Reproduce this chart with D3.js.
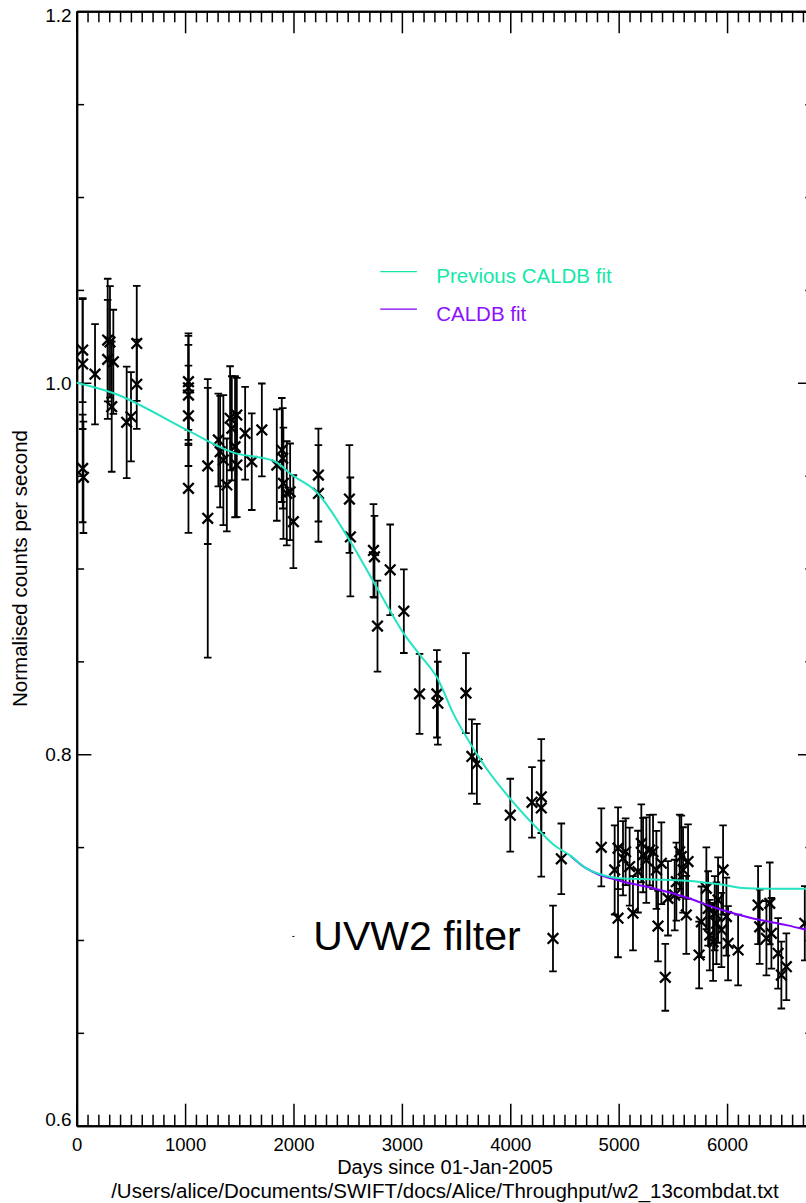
<!DOCTYPE html>
<html>
<head>
<meta charset="utf-8">
<script src="https://cdn.jsdelivr.net/npm/d3@7"></script>
<style>
  body { margin: 0; background: #fff; }
  text { font-family: "Liberation Sans", Arial, Helvetica, sans-serif; }
</style>
</head>
<body>
<svg id="chart"></svg>
<script>
// observation day (since 01-Jan-2005), normalised rate, 1-sigma error
const days = [55, 55, 55, 62, 169, 286, 307, 286, 338, 323, 461, 501, 554, 554,
  1031, 1031, 1031, 1031, 1031, 1209, 1209,
  1307, 1323, 1353, 1385, 1415, 1431, 1461, 1477, 1477, 1554, 1615, 1708,
  1846, 1892, 1901, 1907, 1938, 1969, 1999, 2230, 2230,
  2516, 2525, 2738, 2747, 2775, 2892, 3018, 3163, 3323, 3332, 3591, 3646, 3692,
  4000, 4200, 4286, 4286, 4394, 4471,
  4840, 4994, 4994, 4963, 5040, 5064, 5101, 5132, 5178, 5209, 5225, 5255, 5286,
  5317, 5348, 5363, 5394, 5430, 5455, 5517, 5532, 5563, 5578, 5594, 5624, 5640,
  5742, 5763, 5809, 5825, 5840, 5871, 5886, 5902, 5917, 5948, 5963, 5994, 6009,
  6102, 6286, 6301, 6363, 6394, 6409, 6471, 6501, 6547, 6717];
const rates = [1.0176, 1.0101, 0.9539, 0.9491, 1.0046, 1.0230, 1.0220, 1.0126, 1.0113, 0.9871, 0.9787, 0.9817, 1.0212, 0.9992,
  1.0006, 0.9973, 0.9934, 0.9822, 0.9432, 0.9552, 0.9270,
  0.9692, 0.9629, 0.9584, 0.9450, 0.9809, 0.9755, 0.9656, 0.9826, 0.9557, 0.9728, 0.9575, 0.9746,
  0.9557, 0.9638, 0.9593, 0.9459, 0.9405, 0.9413, 0.9252, 0.9503, 0.9404,
  0.9374, 0.9170, 0.9097, 0.9063, 0.8690, 0.8993, 0.8770, 0.8325, 0.8325, 0.8275, 0.8329, 0.7988, 0.7948,
  0.7672, 0.7741, 0.7771, 0.7711, 0.7008, 0.7437,
  0.7499, 0.7494, 0.7117, 0.7377, 0.7440, 0.7475, 0.7395, 0.7144, 0.7368, 0.7520, 0.7457, 0.7430, 0.7484,
  0.7475, 0.7377, 0.7075, 0.7413, 0.6799, 0.7224, 0.7242, 0.7314, 0.7475, 0.7449, 0.7377, 0.7135, 0.7422,
  0.6919, 0.7098, 0.7278, 0.7170, 0.7026, 0.6990, 0.7144, 0.7090, 0.7215, 0.7054, 0.7377, 0.7126, 0.6982,
  0.6946, 0.7188, 0.7071, 0.7009, 0.7197, 0.7036, 0.6928, 0.6811, 0.6856, 0.7090];
const errs = [0.028, 0.035, 0.029, 0.030, 0.027, 0.033, 0.030, 0.032, 0.028, 0.035, 0.030, 0.024, 0.031, 0.024,
  0.026, 0.028, 0.027, 0.027, 0.024, 0.042, 0.075,
  0.025, 0.030, 0.035, 0.025, 0.028, 0.028, 0.038, 0.020, 0.028, 0.025, 0.026, 0.025,
  0.030, 0.028, 0.027, 0.030, 0.028, 0.026, 0.025, 0.025, 0.026,
  0.029, 0.032, 0.025, 0.022, 0.0245, 0.0244, 0.0225, 0.0215, 0.0235, 0.0223, 0.0215, 0.020, 0.0215,
  0.0196, 0.019, 0.0195, 0.037, 0.0177, 0.019,
  0.021, 0.022, 0.021, 0.024, 0.020, 0.018, 0.021, 0.020, 0.022, 0.021, 0.020, 0.023, 0.019,
  0.020, 0.021, 0.019, 0.022, 0.018, 0.020, 0.019, 0.021, 0.020, 0.022, 0.023, 0.021, 0.020,
  0.018, 0.019, 0.022, 0.020, 0.019, 0.021, 0.020, 0.022, 0.023, 0.020, 0.024, 0.021, 0.020,
  0.019, 0.021, 0.020, 0.020, 0.022, 0.019, 0.019, 0.018, 0.018, 0.020];

// previous CALDB fit
const prevFitDays = [0, 354, 1015, 1446, 1815, 2000, 2200, 2523, 2738, 2892, 3015, 3169, 3323, 3477,
  3631, 3785, 4000, 4246, 4400, 4554, 4702, 4886, 5009, 5317, 5624, 5932, 6178, 6425, 6790];
const prevFit = [1.0, 0.9941, 0.9746, 0.9624, 0.958, 0.9498, 0.942, 0.9147, 0.8929, 0.8771, 0.8652, 0.8533, 0.8414, 0.8216,
  0.8058, 0.7919, 0.776, 0.7602, 0.7513, 0.7454, 0.7385, 0.7344, 0.7332, 0.7326, 0.7319, 0.73, 0.7278, 0.7276, 0.7276];

// current CALDB fit, only differs from the previous one after ~4700 days
const caldbDays = [4554, 4702, 4794, 5009, 5317, 5624, 5932, 6240, 6547, 6790];
const caldbFit = [0.7454, 0.7385, 0.7358, 0.7319, 0.7278, 0.7229, 0.7165, 0.7116, 0.708, 0.7047];

const xMajor = [0, 1000, 2000, 3000, 4000, 5000, 6000];
const yMajor = [0.6, 0.8, 1.0, 1.2];
const legendLabels = ['Previous CALDB fit', 'CALDB fit'];

const prevColor = '#22e4c0', caldbColor = '#8000ff';
const prevTextColor = '#14e8a8', caldbTextColor = '#8a10ff';

let margin = {top: 11.3, left: 76.7},
  plotW = 736, plotH = 1114.4;

let x = d3.scaleLinear().domain([0, 6790]).range([0, plotW]);
let y = d3.scaleLinear().domain([0.6, 1.2]).range([plotH, 0]);

let svg = d3.select('#chart')
  .attr('width', 806)
  .attr('height', 1203);

let chart = svg.append('g')
  .attr('transform', 'translate(' + margin.left + ',' + margin.top + ')');

let xMinor = d3.range(100, 6790, 100).filter(d => d % 1000 !== 0);
let yMinor = d3.range(0.65, 1.2, 0.05).filter(d => Math.abs(d * 5 - Math.round(d * 5)) > 1e-6);

function styleAxis(sel) {
  sel.attr('font-size', 18.5).attr('font-family', null);
  sel.select('.domain').attr('stroke', '#000').attr('stroke-width', 2);
  sel.selectAll('.tick line').attr('stroke', '#000').attr('stroke-width', 1.5);
  sel.selectAll('.tick text').attr('fill', '#000');
}

// bottom
chart.append('g').attr('transform', 'translate(0,' + plotH + ')')
  .call(d3.axisBottom(x).tickValues(xMinor).tickSizeInner(-11).tickSizeOuter(0).tickFormat(''))
  .call(styleAxis);
chart.append('g').attr('class', 'x axis').attr('transform', 'translate(0,' + plotH + ')')
  .call(d3.axisBottom(x).tickValues(xMajor).tickSizeInner(-22).tickSizeOuter(0).tickPadding(12.5).tickFormat(d3.format('d')))
  .call(styleAxis);
// top
chart.append('g')
  .call(d3.axisTop(x).tickValues(xMinor).tickSizeInner(-11).tickSizeOuter(0).tickFormat(''))
  .call(styleAxis);
chart.append('g')
  .call(d3.axisTop(x).tickValues(xMajor).tickSizeInner(-22).tickSizeOuter(0).tickFormat(''))
  .call(styleAxis);
// left
chart.append('g')
  .call(d3.axisLeft(y).tickValues(yMinor).tickSizeInner(-7.4).tickSizeOuter(0).tickFormat(''))
  .call(styleAxis);
let yAxisG = chart.append('g').attr('class', 'y axis')
  .call(d3.axisLeft(y).tickValues(yMajor).tickSizeInner(-14.7).tickSizeOuter(0).tickPadding(5).tickFormat(d3.format('.1f')))
  .call(styleAxis);
yAxisG.selectAll('.tick text')
  .attr('font-size', 19)
  .attr('dy', d => d === 1.2 ? '0.55em' : (d === 0.6 ? '0em' : '0.34em'));
// right
chart.append('g').attr('transform', 'translate(' + plotW + ',0)')
  .call(d3.axisRight(y).tickValues(yMinor).tickSizeInner(-7.4).tickSizeOuter(0).tickFormat(''))
  .call(styleAxis);
chart.append('g').attr('transform', 'translate(' + plotW + ',0)')
  .call(d3.axisRight(y).tickValues(yMajor).tickSizeInner(-14.7).tickSizeOuter(0).tickFormat(''))
  .call(styleAxis);

// data with error bars
let pts = days.map((d, i) => ({d: d, v: rates[i], e: errs[i]}));
let marks = chart.append('g')
  .attr('stroke', '#000')
  .attr('stroke-width', 1.8)
  .attr('fill', 'none');

marks.selectAll('.err')
  .data(pts)
  .enter()
  .append('path')
  .attr('class', 'err')
  .attr('d', p => {
    let px = x(p.d), y1 = y(p.v + p.e), y2 = y(p.v - p.e);
    return 'M' + px + ',' + y1 + 'V' + y2 +
      'M' + (px - 3.8) + ',' + y1 + 'H' + (px + 3.8) +
      'M' + (px - 3.8) + ',' + y2 + 'H' + (px + 3.8);
  });

marks.selectAll('.pt')
  .data(pts)
  .enter()
  .append('path')
  .attr('class', 'pt')
  .attr('stroke-width', 2.3)
  .attr('transform', p => 'translate(' + x(p.d) + ',' + y(p.v) + ')')
  .attr('d', 'M-5.3,-5.3L5.3,5.3M-5.3,5.3L5.3,-5.3');

// fits
let line = d3.line()
  .x(d => x(d[0]))
  .y(d => y(d[1]))
  .curve(d3.curveMonotoneX);

chart.append('path')
  .datum(caldbDays.map((d, i) => [d, caldbFit[i]]))
  .attr('fill', 'none')
  .attr('stroke', caldbColor)
  .attr('stroke-width', 2)
  .attr('d', line);

chart.append('path')
  .datum(prevFitDays.map((d, i) => [d, prevFit[i]]))
  .attr('fill', 'none')
  .attr('stroke', prevColor)
  .attr('stroke-width', 2)
  .attr('d', line);

// legend
let legendY = [1.0598, 1.0397];
let legendText = [prevTextColor, caldbTextColor];
let legend = chart.append('g');
legendLabels.forEach((lab, i) => {
  legend.append('line')
    .attr('x1', x(2800)).attr('x2', x(3139))
    .attr('y1', y(legendY[i])).attr('y2', y(legendY[i]))
    .attr('stroke', i === 0 ? prevTextColor : caldbColor)
    .attr('stroke-width', 1.3);
  legend.append('text')
    .attr('x', x(3317))
    .attr('y', y(legendY[i]) + 11.6)
    .attr('font-size', 20.5)
    .attr('fill', legendText[i])
    .text(lab);
});

// annotation
chart.append('text')
  .attr('x', x(2183))
  .attr('y', y(0.6945))
  .attr('font-size', 41)
  .attr('fill', '#000')
  .text('UVW2 filter');
chart.append('rect')
  .attr('x', x(1999) - 1).attr('y', y(0.7019) - 0.5)
  .attr('width', 2).attr('height', 1)
  .attr('fill', '#000');

// titles
svg.append('text')
  .attr('x', 445).attr('y', 1174)
  .attr('text-anchor', 'middle')
  .attr('font-size', 20)
  .text('Days since 01-Jan-2005');
svg.append('text')
  .attr('x', 445).attr('y', 1197.5)
  .attr('text-anchor', 'middle')
  .attr('font-size', 20.5)
  .text('/Users/alice/Documents/SWIFT/docs/Alice/Throughput/w2_13combdat.txt');
svg.append('text')
  .attr('transform', 'translate(26.5,568.5) rotate(-90)')
  .attr('text-anchor', 'middle')
  .attr('font-size', 20.5)
  .text('Normalised counts per second');
</script>
</body>
</html>
